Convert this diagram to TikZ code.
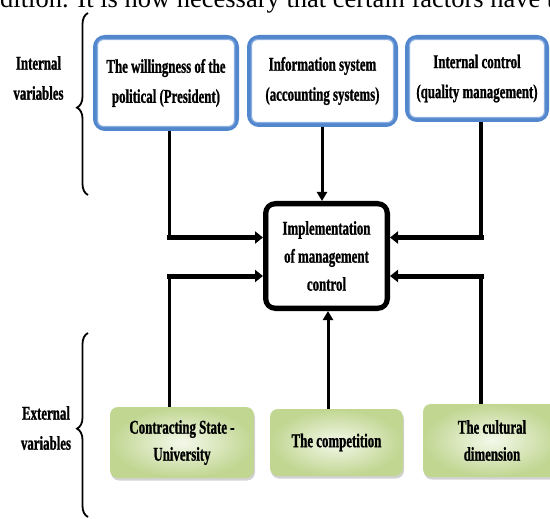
\documentclass[tikz,border=0pt]{standalone}
\usepackage{fontspec}
\setmainfont{Liberation Serif}
\newfontfamily\condf[FakeStretch=0.66, FakeBold=1]{Liberation Serif}
\usetikzlibrary{arrows.meta,shadows,decorations.pathreplacing}
\definecolor{bluedark}{RGB}{82,134,205}
\definecolor{bluelight}{RGB}{140,175,225}
\definecolor{greendark}{RGB}{192,214,145}
\definecolor{greenlight}{RGB}{244,248,234}
\tikzset{
  lbl/.style={font=\condf\bfseries\fontsize{19.5}{30}\selectfont, align=center, inner sep=0pt},
  bluebox/.style={lbl, draw=bluedark, line width=4pt, rounded corners=10pt, fill=white},
  centerbox/.style={lbl, draw=black, line width=5pt, rounded corners=10pt, fill=white,
     font=\condf\bfseries\fontsize{19.5}{28}\selectfont},
  greenbox/.style={lbl, rounded corners=8pt, inner color=greenlight, outer color=greendark,
     drop shadow={shadow xshift=1pt, shadow yshift=-2.5pt, opacity=0.35},
     font=\condf\bfseries\fontsize{19.5}{27}\selectfont},
  conn/.style={line width=5pt, line cap=rect, -{Triangle[length=8pt,width=12pt]}},
  vconn/.style={line width=3.5pt},
  vtip/.style={line width=3pt, -{Triangle[length=9pt,width=10pt]}},
  bracestyle/.style={decorate, decoration={brace, amplitude=11pt, aspect=0.48}, line width=1.8pt},
}
\begin{document}
\begin{tikzpicture}[x=1pt,y=-1pt]
\clip (0,0) rectangle (550,519);
\fill[white] (0,0) rectangle (550,519);

% cut-off running text at top
\node[anchor=base west, inner sep=0pt, font=\fontsize{26.5}{28}\selectfont] (toptext) at (0,7.5)
  {dition. It is now necessary that certain factors have t};

% top boxes
\node[bluebox, minimum width=142pt, minimum height=92pt] (b1) at (166,83)
  {The willingness of the\\political (President)};
\node[bluebox, minimum width=147pt, minimum height=88pt] (b2) at (322.5,81)
  {Information system\\(accounting systems)};
\node[bluebox, minimum width=140pt, minimum height=83pt] (b3) at (477,78.5)
  {Internal control\\(quality management)};
\foreach \n in {b1,b2,b3}{
  \draw[bluelight, line width=1.2pt, rounded corners=6pt]
    ([shift={(4.5,-4.5)}]\n.south west) rectangle ([shift={(-4.5,4.5)}]\n.north east);
}

% center box
\node[centerbox, minimum width=122pt, minimum height=105pt] (c) at (326.5,256)
  {Implementation\\of management\\control};
\draw[black, line width=0.9pt, rounded corners=6pt]
  ([shift={(5,-5)}]c.south west) rectangle ([shift={(-5,5)}]c.north east);

% bottom boxes
\node[greenbox, minimum width=144pt, minimum height=71pt] (g1) at (182,442.5)
  {Contracting State -\\University};
\node[greenbox, minimum width=133pt, minimum height=67pt] (g2) at (336.5,442.5)
  {The competition};
\node[greenbox, minimum width=138pt, minimum height=73pt] (g3) at (492,440.5)
  {The cultural\\dimension};

% labels
\node[lbl] (intl) at (38.5,78) {Internal\\variables};
\node[lbl] (extl) at (46,428) {External\\variables};

% braces
\coordinate (br1a) at (88,195);
\coordinate (br1b) at (88,13);
\coordinate (br2a) at (88,517);
\coordinate (br2b) at (88,333);
\draw[bracestyle] (br1a) -- (br1b);
\draw[bracestyle] (br2a) -- (br2b);

% connectors
\coordinate (k1) at (169.5,237.5);
\coordinate (k2) at (322,0);
\coordinate (k3) at (481,237.5);
\coordinate (k4) at (169.5,276);
\coordinate (k5) at (328,0);
\coordinate (k6) at (481,276);
\draw[vconn] (b1.south -| k1) -- (k1);
\draw[conn] (k1) -- (c.west |- k1);
\draw[vtip] (b2.south -| k2) -- (c.north -| k2);
\draw[vconn] (b3.south -| k3) -- (k3);
\draw[conn] (k3) -- (c.east |- k3);
\draw[vconn] (g1.north -| k4) -- (k4);
\draw[conn] (k4) -- (c.west |- k4);
\draw[vtip] (g2.north -| k5) -- (c.south -| k5);
\draw[vconn] (g3.north -| k6) -- (k6);
\draw[conn] (k6) -- (c.east |- k6);
\end{tikzpicture}
\end{document}
